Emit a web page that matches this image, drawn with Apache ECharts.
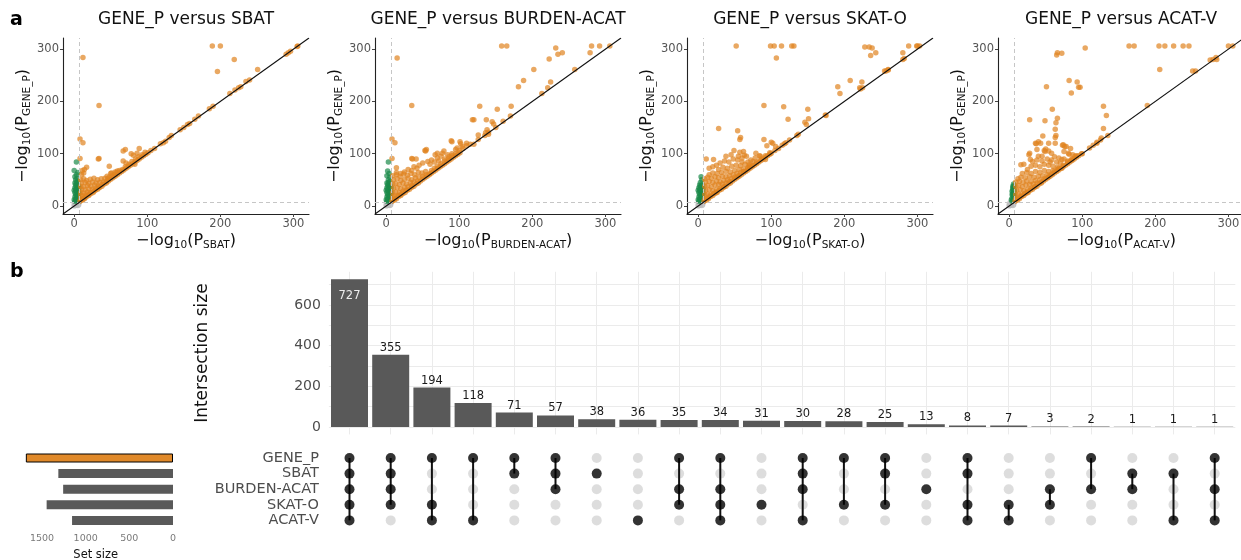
<!DOCTYPE html>
<html><head><meta charset="utf-8">
<script src="https://cdn.jsdelivr.net/npm/echarts@6/dist/echarts.min.js"></script>
<style>html,body{margin:0;padding:0;background:#fff}#c{width:1241px;height:560px}</style>
</head><body><div id="c"></div>
<script>
// ---------------- DATA ----------------
const scatterMethods = ['SBAT', 'BURDEN-ACAT', 'SKAT-O', 'ACAT-V'];
const scatterTicks = [0, 100, 200, 300];
const sigThreshold = 7.3;

// panel 1: GENE_P vs SBAT
const sbatGrey = [[0,0],[1,2],[2,1],[3,3],[1,4],[4,2],[2,5],[5,5],[0,3],[3,6],[6,4],[1,6],[4,6],[6,6],[5,1],[2,3],[7,7],[6,2]];
const sbatGreen = [[1,9],[3,10],[5,11],[2,13],[4,15],[6,14],[1,17],[3,19],[5,18],[2,22],[4,24],[6,21],[1,26],[3,28],[5,27],[2,31],[4,33],[6,30],[1,35],[3,37],[5,36],[2,40],[4,42],[6,39],[3,45],[1,44],[5,47],[0,12],[7,10],[7,25],[0,30],[7,35],[2,50],[4,53],[1,56],[3,60],[5,64],[0,68],[3,84]];
const sbatOrange = [[189,306],[200,306],[219,280],[196,257],[251,261],[12,284],[34,192],[8,128],[12,121],[8,91],[34,91],[70,108],[89,110],[81,97],[86,101],[48,76],[17,74],[13,63],[67,105],[78,100],[33,90],[67,86],[71,82],[83,80],[51,63],[59,67],[10,60],[11,68],[14,70],
[105,106],[110,110],[118,119],[122,121],[125,124],[130,131],[133,135],[145,146],[150,150],[155,156],[158,158],[165,166],[170,172],[185,186],[190,191],[213,215],[220,222],[225,226],[228,228],[235,238],[240,241],[290,290],[293,293],[296,296],[305,305],[306,306],
[9,50],[13,52],[17,49],[22,51],[27,53],[32,50],[37,52],[42,53],[46,52],[10,44],[15,45],[20,43],[25,46],[30,44],[35,45],[40,46],[44,47],[9,38],[13,37],[18,39],[23,38],[28,40],[33,38],[38,41],[10,32],[15,31],[20,33],[25,32],[30,34],[34,35],[9,26],[13,25],[18,27],[22,26],[27,28],[9,20],[12,19],[16,21],[20,22],[9,14],[12,13],[15,16],
[8,9],[11,11],[14,14],[17,18],[20,20],[23,24],[26,26],[29,30],[32,32],[35,36],[38,38],[41,42],[44,44],[47,48],[50,51],[53,54],[56,57],[59,60],[62,63],[65,66],[68,69],[71,72],[74,75],[77,78],[80,81],[83,84],[86,87],[89,90],[92,93],[95,96],[98,99],[101,102],
[48,55],[52,58],[55,60],[58,64],[62,68],[66,70],[70,75],[75,80],[79,85],[84,90],[88,94],[93,98],[97,103],[45,57],[50,62],[56,65]];

// panel 2: GENE_P vs BURDEN-ACAT
const burdenGrey = [[0,0],[1,2],[2,1],[3,3],[1,4],[4,2],[2,5],[5,5],[0,3],[3,6],[6,4],[1,6],[4,6],[6,6],[5,1],[2,3],[7,7],[6,2]];
const burdenGreen = [[1,9],[3,10],[5,11],[2,13],[4,15],[6,14],[1,17],[3,19],[5,18],[2,22],[4,24],[6,21],[1,26],[3,28],[5,27],[2,31],[4,33],[6,30],[1,35],[3,37],[5,36],[2,40],[4,42],[6,39],[3,45],[1,44],[5,47],[0,12],[7,10],[7,25],[0,30],[7,35],[3,50],[5,55],[1,58],[4,62],[2,67],[3,84]];
const burdenOrange = [[158,306],[165,306],[15,283],[35,192],[8,128],[12,121],[8,91],[35,91],[55,108],[202,261],[188,240],[181,228],[223,281],[232,302],[235,290],[241,293],[225,237],[213,215],[221,226],[279,293],[281,306],[292,306],[306,306],[258,261],[171,191],[152,185],[128,191],[120,165],[145,161],[147,157],[126,127],[138,146],[140,137],[104,114],[110,120],[101,123],[97,111],[89,125],[77,101],[67,98],[53,106],[41,90],
[36,90],[54,105],[70,101],[79,105],[90,123],[102,119],[118,165],[137,165],[136,140],[126,136],[14,73],[14,64],
[30,70],[38,75],[45,78],[50,82],[57,85],[62,88],[70,92],[75,95],[84,98],[90,100],[95,108],[60,80],[66,84],[72,86],[80,90],[86,94],[42,72],[35,68],[25,65],[20,62],
[9,58],[14,60],[19,57],[24,61],[29,59],[34,62],[39,60],[44,64],[49,63],[54,66],[10,50],[15,52],[20,49],[25,51],[30,53],[35,50],[40,54],[45,55],[50,57],[55,60],[60,62],[9,42],[13,43],[18,41],[23,44],[28,42],[33,45],[38,46],[43,48],[10,34],[15,35],[20,33],[25,36],[30,37],[35,39],[9,26],[13,27],[18,26],[23,28],[27,30],[9,18],[12,19],[16,20],[20,22],[9,12],[12,14],
[8,9],[11,11],[14,14],[17,18],[20,20],[23,24],[26,26],[29,30],[32,32],[35,36],[38,38],[41,42],[44,44],[47,48],[50,51],[53,54],[56,57],[59,60],[62,63],[65,66],[68,69],[71,72],[74,75],[77,78],[80,81],[83,84],[86,87],[89,90],[92,93],[95,96],[98,99],[101,102],
[62,68],[66,72],[70,76],[75,81],[80,86],[85,90],[90,96],[95,100],[100,106],[105,110],[110,115],[115,118],[120,118],[135,135],[140,141],[150,150],[160,162],[170,172]];

// panel 3: GENE_P vs SKAT-O
const skatGrey = [[0,0],[1,2],[2,1],[3,3],[1,4],[4,2],[2,5],[5,5],[0,3],[3,6],[6,4],[1,6],[4,6],[6,6],[5,1],[2,3],[7,7],[6,2]];
const skatGreen = [[1,9],[3,10],[5,11],[2,13],[4,15],[6,14],[1,17],[3,19],[5,18],[2,22],[4,24],[6,21],[1,26],[3,28],[5,27],[2,31],[4,33],[6,30],[1,35],[3,37],[5,36],[2,40],[4,39],[6,41],[0,12],[7,10],[7,25],[0,30],[7,33],[3,45],[5,50],[4,56]];
const skatOrange = [[52,306],[99,306],[104,306],[114,306],[128,306],[131,306],[107,283],[228,304],[234,304],[238,302],[236,288],[243,293],[288,306],[299,306],[280,293],[280,280],[208,240],[191,228],[194,215],[224,237],[221,226],[257,258],[260,261],[90,192],[117,190],[123,166],[150,185],[151,167],[146,160],[148,156],[174,174],[28,148],[54,144],[58,131],[57,127],[90,127],[94,115],[100,122],[102,120],[106,114],[118,119],[49,106],[57,103],[62,104],[63,97],[55,95],[11,90],[21,89],[79,101],[84,96],[75,85],[70,76],[92,89],
[135,135],[137,137],[175,173],[222,224],[225,226],[255,258],[260,260],[300,306],[303,306],[282,282],[110,110],[115,116],[120,121],[125,126],[105,106],[100,101],
[28,70],[34,74],[40,72],[46,76],[52,78],[58,77],[64,80],[70,79],[15,60],[20,63],[26,62],[32,64],[38,66],[44,65],[50,68],[56,70],[62,71],[68,73],[9,52],[13,55],[18,53],[23,56],[28,54],[33,57],[38,56],[43,58],[48,60],[53,62],[58,64],[63,66],[10,46],[15,47],[20,45],[25,48],[30,46],[35,49],[40,50],[45,52],[50,55],[55,58],[9,38],[13,39],[18,37],[23,40],[28,41],[33,42],[38,44],[43,47],[10,30],[15,31],[20,29],[25,32],[30,34],[35,37],[9,22],[13,23],[17,21],[21,24],[25,27],[9,14],[12,15],[15,17],
[8,9],[11,11],[14,14],[17,18],[20,20],[23,24],[26,26],[29,30],[32,32],[35,36],[38,38],[41,42],[44,44],[47,48],[50,51],[53,54],[56,57],[59,60],[62,63],[65,66],[68,69],[71,72],[74,75],[77,78],[80,81],[83,84],[86,87],[89,90],[92,93],[95,96],[98,99],
[30,82],[36,86],[42,84],[48,90],[54,88],[60,92],[66,95],[45,98],[38,95],[72,88],[78,92],[85,95],[25,78],[20,75],[15,72],[60,84],[68,84],[62,66],[68,72],[74,78],[80,84],[86,90],[92,96],[98,102]];

// panel 4: GENE_P vs ACAT-V
const acatvGrey = [[0,0],[1,2],[2,1],[3,3],[1,4],[4,2],[2,5],[5,5],[0,3],[3,6],[6,4],[1,6],[4,6],[6,6],[5,1],[2,3],[7,7],[6,2]];
const acatvGreen = [[4,9],[5,12],[6,11],[4,15],[6,17],[5,20],[7,19],[5,24],[6,27],[7,25],[5,30],[6,33],[7,31],[6,36],[7,39],[6,42],[5,38],[4,28],[7,14],[3,12],[4,22],[5,34],[7,28],[6,22]];
const acatvOrange = [[164,306],[171,306],[104,302],[66,293],[65,289],[72,292],[205,306],[213,306],[225,306],[238,306],[246,306],[206,261],[300,306],[306,306],[284,280],[279,280],[251,258],[82,240],[93,237],[95,227],[97,227],[85,216],[51,228],[59,185],[28,165],[49,163],[66,168],[64,159],[63,147],[64,135],[63,131],[46,134],[43,120],[37,119],[28,101],[48,106],[50,109],[54,105],[73,116],[76,114],[84,110],[75,104],[82,99],[129,191],[133,173],[129,148],[126,130],[120,122],[99,100],[189,192],
[100,100],[120,120],[135,135],[255,258],[275,279],[283,284],[110,111],[115,116],[125,126],
[36,120],[40,123],[54,120],[38,108],[49,104],[63,120],[27,98],[16,79],[29,89],[45,95],[58,101],[72,89],[78,114],[74,117],[81,101],[87,98],
[25,70],[30,76],[36,78],[42,75],[48,80],[54,78],[60,76],[66,74],[72,72],[18,62],[24,64],[30,62],[36,66],[42,64],[48,68],[54,66],[60,68],[66,70],[12,52],[16,55],[22,54],[28,56],[34,55],[40,57],[46,58],[52,60],[58,61],[9,46],[14,47],[19,45],[24,48],[30,47],[36,49],[42,50],[48,52],[54,56],[9,38],[13,39],[18,37],[23,40],[28,41],[33,42],[38,44],[44,46],[10,30],[15,31],[20,29],[25,32],[30,34],[35,37],[9,22],[13,23],[17,21],[21,24],[25,27],[9,14],[12,15],[15,17],
[8,9],[11,11],[14,14],[17,18],[20,20],[23,24],[26,26],[29,30],[32,32],[35,36],[38,38],[41,42],[44,44],[47,48],[50,51],[53,54],[56,57],[59,60],[62,63],[65,66],[68,69],[71,72],[74,75],[77,78],[80,81],[83,84],[86,87],[89,90],[92,93],[95,96],
[32,85],[38,88],[45,86],[52,90],[58,88],[65,84],[70,82],[20,80],[40,95],[62,94],[68,92],[75,90],[80,86],[85,88],[90,95],[56,84],[62,66],[68,72],[74,78],[80,84],[86,90],[92,96]];

// UpSet data
const setNames = ['GENE_P', 'SBAT', 'BURDEN-ACAT', 'SKAT-O', 'ACAT-V'];
const setSizes = [1685, 1313, 1258, 1447, 1156];
const setSizeTicks = [0, 500, 1000, 1500];
const intersectionSizes = [727, 355, 194, 118, 71, 57, 38, 36, 35, 34, 31, 30, 28, 25, 13, 8, 7, 3, 2, 1, 1, 1];
const intersectionMembers = [
  [0,1,2,3,4], [0,1,2,3], [0,3,4], [0,4], [0,1], [0,1,2], [1], [4], [0,2,3], [0,2,3,4], [3],
  [0,1,2,4], [0,3], [0,1,3], [2], [0,1,3,4], [3,4], [2,3], [0,2], [1,2], [1,4], [0,2,4]
];
const intersectionLabelTicks = [0, 200, 400, 600];
const intersectionGridTicks = [0, 100, 200, 300, 400, 500, 600, 700];

// ---------------- BUILD ----------------
const FONT = 'DejaVu Sans';
const AX_MIN = -15.3, AX_MAX = 321.3;
const panelLefts = [63, 375, 687, 998];
const panelW = 246, panelTop = 38, panelH = 176;
const panels = [
  {grey: sbatGrey, green: sbatGreen, orange: sbatOrange},
  {grey: burdenGrey, green: burdenGreen, orange: burdenOrange},
  {grey: skatGrey, green: skatGreen, orange: skatOrange},
  {grey: acatvGrey, green: acatvGreen, orange: acatvOrange}
];
const rich = {
  n: {fontSize: 16, color: '#111', fontFamily: FONT},
  s: {fontSize: 10.5, color: '#111', fontFamily: FONT, padding: [9, 0, 0, 0]}
};

const grids = [], xAxes = [], yAxes = [], series = [], graphics = [];

panels.forEach((p, i) => {
  grids.push({left: panelLefts[i], top: panelTop, width: panelW, height: panelH, outerBoundsMode: 'none'});
  const axisCommon = {
    gridIndex: i, type: 'value', min: AX_MIN, max: AX_MAX,
    axisLine: {show: true, onZero: false, lineStyle: {color: '#222', width: 1.1}},
    axisTick: {show: true, customValues: scatterTicks, length: 3, lineStyle: {color: '#444'}},
    axisLabel: {customValues: scatterTicks, fontSize: 11.5, color: '#555', fontFamily: FONT},
    splitLine: {show: false},
    nameLocation: 'middle',
    nameTextStyle: {rich: rich}
  };
  xAxes.push(Object.assign({}, axisCommon, {
    name: '{n|\u2212log}{s|10}{n|(P}{s|' + scatterMethods[i] + '}{n|)}',
    nameGap: 17,
    axisLabel: Object.assign({}, axisCommon.axisLabel, {margin: 4})
  }));
  yAxes.push(Object.assign({}, axisCommon, {
    name: '{n|\u2212log}{s|10}{n|(P}{s|GENE_P}{n|)}',
    nameGap: 26,
    axisLabel: Object.assign({}, axisCommon.axisLabel, {margin: 4})
  }));
  series.push({
    type: 'scatter', xAxisIndex: i, yAxisIndex: i, data: p.grey, symbolSize: 5.5, silent: true, z: 2,
    itemStyle: {color: '#BDBDBD', opacity: 0.7},
    markLine: {
      silent: true, symbol: 'none', label: {show: false}, animation: false,
      lineStyle: {color: '#C6C6C6', type: [4, 3], width: 1},
      data: [{xAxis: sigThreshold}, {yAxis: sigThreshold}]
    }
  });
  series.push({type: 'scatter', xAxisIndex: i, yAxisIndex: i, data: p.green, symbolSize: 5.5, silent: true, z: 3,
    itemStyle: {color: '#1B8A4A', opacity: 0.7}});
  series.push({type: 'scatter', xAxisIndex: i, yAxisIndex: i, data: p.orange, symbolSize: 5.5, silent: true, z: 3,
    itemStyle: {color: '#E0831F', opacity: 0.7}});
  series.push({type: 'line', xAxisIndex: i, yAxisIndex: i, data: [[AX_MIN, AX_MIN], [AX_MAX, AX_MAX]],
    symbol: 'none', silent: true, z: 5, lineStyle: {color: '#111', width: 1.1}});
  graphics.push({type: 'text', x: panelLefts[i] + panelW / 2, y: 20,
    style: {text: 'GENE_P versus ' + scatterMethods[i], font: '17px "DejaVu Sans"', fill: '#111', textAlign: 'center', textVerticalAlign: 'middle'}});
});

// --- intersection bars (grid 4)
const colIdx = intersectionSizes.map((_, i) => i);
const barLeft = 328.9, colW = 41.2, nCols = intersectionSizes.length;
const barGridW = colW * nCols;
grids.push({left: barLeft, top: 271.8, width: barGridW, height: 162.6, outerBoundsMode: 'none'});
xAxes.push({gridIndex: 4, type: 'value', min: -0.5, max: nCols - 0.5,
  axisLine: {show: false}, axisLabel: {show: false},
  axisTick: {show: false, customValues: colIdx},
  splitLine: {show: true, lineStyle: {color: '#EBEBEB', width: 1}}});
yAxes.push({gridIndex: 4, type: 'value', min: -36.35, max: 763.35,
  axisLine: {show: false},
  axisTick: {show: false, customValues: intersectionGridTicks},
  axisLabel: {customValues: intersectionLabelTicks, fontSize: 14, color: '#4D4D4D', fontFamily: FONT, margin: 8},
  splitLine: {show: true, lineStyle: {color: '#EBEBEB', width: 1}},
  name: 'Intersection size', nameLocation: 'middle', nameGap: 118,
  nameTextStyle: {fontSize: 17, color: '#111', fontFamily: FONT}});
series.push({type: 'bar', xAxisIndex: 4, yAxisIndex: 4, barWidth: 37, silent: true,
  itemStyle: {color: '#595959'},
  label: {show: true, position: 'top', distance: 1, fontSize: 11.5, color: '#1a1a1a', fontFamily: FONT,
    formatter: (p) => p.value[1]},
  data: intersectionSizes.map((v, i) => i === 0
    ? {value: [i, v], label: {position: 'insideTop', distance: 11, color: '#EEEEEE'}}
    : {value: [i, v]}),
  labelLayout: {hideOverlap: false}
});

// --- matrix (grid 5)
const rowH = 15.6;
grids.push({left: barLeft, top: 458 - rowH / 2, width: barGridW, height: rowH * setNames.length, outerBoundsMode: 'none'});
xAxes.push({gridIndex: 5, type: 'value', min: -0.5, max: nCols - 0.5, show: false});
yAxes.push({gridIndex: 5, type: 'category', data: setNames, inverse: true,
  axisLine: {show: false}, axisTick: {show: false}, splitLine: {show: false},
  axisLabel: {interval: 0, fontSize: 14.5, color: '#4D4D4D', fontFamily: FONT, margin: 10}});
const filled = [], empty = [], connectors = [];
intersectionMembers.forEach((m, i) => {
  setNames.forEach((_, j) => { (m.includes(j) ? filled : empty).push([i, j]); });
  if (m.length > 1) connectors.push([i, Math.min(...m), Math.max(...m)]);
});
series.push({type: 'scatter', xAxisIndex: 5, yAxisIndex: 5, data: empty, symbolSize: 10, silent: true,
  itemStyle: {color: '#D4D4D4'}, z: 2});
series.push({type: 'custom', xAxisIndex: 5, yAxisIndex: 5, data: connectors, silent: true, z: 3,
  renderItem: (params, api) => {
    const a = api.coord([api.value(0), api.value(1)]);
    const b = api.coord([api.value(0), api.value(2)]);
    return {type: 'line', shape: {x1: a[0], y1: a[1], x2: b[0], y2: b[1]}, style: {stroke: '#111', lineWidth: 2}};
  }});
series.push({type: 'scatter', xAxisIndex: 5, yAxisIndex: 5, data: filled, symbolSize: 10, silent: true,
  itemStyle: {color: '#000'}, z: 4});

// --- set size bars (grid 6)
grids.push({left: 18.5, top: 458 - rowH / 2, width: 154.5, height: rowH * setNames.length, outerBoundsMode: 'none'});
xAxes.push({gridIndex: 6, type: 'value', min: 0, max: 1769.25, inverse: true,
  axisLine: {show: false}, axisTick: {show: false, customValues: setSizeTicks},
  axisLabel: {customValues: setSizeTicks, formatter: (v) => String(v), fontSize: 9.5, color: '#7A7A7A', fontFamily: FONT, margin: 5},
  splitLine: {show: false},
  name: 'Set size', nameLocation: 'middle', nameGap: 21,
  nameTextStyle: {fontSize: 11.5, color: '#111', fontFamily: FONT}});
yAxes.push({gridIndex: 6, type: 'category', data: setNames, inverse: true, show: false});
series.push({type: 'bar', xAxisIndex: 6, yAxisIndex: 6, barWidth: 9, silent: true,
  itemStyle: {color: '#595959'},
  data: setSizes.map((v, i) => i === 0 ? {value: v, itemStyle: {color: '#E0892A', borderColor: '#000', borderWidth: 1}} : v)});

graphics.push({type: 'text', x: 10, y: 20, style: {text: 'a', font: 'bold 19px "DejaVu Sans"', fill: '#000', textVerticalAlign: 'middle'}});
graphics.push({type: 'text', x: 10, y: 272, style: {text: 'b', font: 'bold 19px "DejaVu Sans"', fill: '#000', textVerticalAlign: 'middle'}});

const chart = echarts.init(document.getElementById('c'), null, {renderer: 'canvas'});
chart.setOption({
  animation: false,
  backgroundColor: '#fff',
  textStyle: {fontFamily: FONT},
  grid: grids, xAxis: xAxes, yAxis: yAxes, series: series, graphic: graphics
});
</script></body></html>
